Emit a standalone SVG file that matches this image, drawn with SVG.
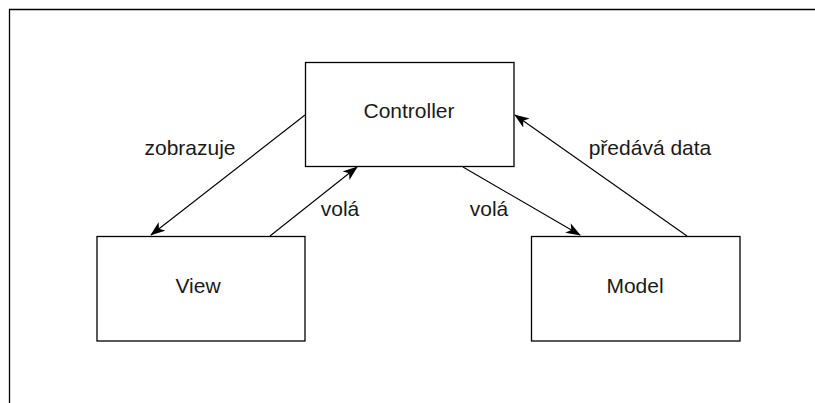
<svg xmlns="http://www.w3.org/2000/svg" width="815" height="403" viewBox="0 0 815 403">
<style>
.box{fill:#fff;stroke:#000;stroke-width:1.3}
.edge{fill:none;stroke:#000;stroke-width:1.1}
text{font-family:"Liberation Sans",Arial,sans-serif;font-size:21px;fill:#1a1a1a}
.c{text-anchor:middle}
</style>
<defs>
<marker id="arr" viewBox="0 0 15 11" refX="14" refY="5.5" markerWidth="15" markerHeight="11" markerUnits="userSpaceOnUse" orient="auto">
<path d="M0,0 L15,5.5 L0,11 L4,5.5 Z" fill="#000"/>
</marker>
</defs>
<rect width="815" height="403" fill="#fff"/>
<g id="frame"><path d="M9.5,403 V9.5 H815" fill="none" stroke="#000" stroke-width="1.3"/></g>
<g id="controller"><rect class="box" x="305.5" y="62.5" width="208.5" height="104"/><text class="c" x="409" y="118">Controller</text></g>
<g id="view"><rect class="box" x="97" y="236.5" width="208" height="104.5"/><text class="c" x="198" y="293">View</text></g>
<g id="model"><rect class="box" x="531.5" y="236.5" width="208.5" height="104.5"/><text class="c" x="635" y="293">Model</text></g>
<g id="connectors">
<line class="edge" x1="305" y1="115" x2="151" y2="235" marker-end="url(#arr)"/>
<line class="edge" x1="270" y1="236" x2="357" y2="167" marker-end="url(#arr)"/>
<line class="edge" x1="463" y1="167" x2="580" y2="235" marker-end="url(#arr)"/>
<line class="edge" x1="687" y1="236" x2="515" y2="115" marker-end="url(#arr)"/>
</g>
<g id="labels">
<text class="c" x="190" y="155">zobrazuje</text>
<text class="c" x="340" y="216">volá</text>
<text class="c" x="489" y="216">volá</text>
<text class="c" x="650" y="155">předává data</text>
</g>
</svg>
